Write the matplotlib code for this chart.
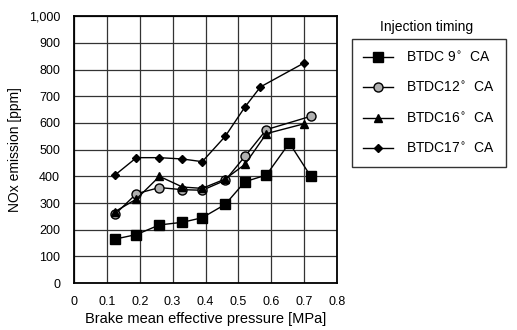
import matplotlib.pyplot as plt
import numpy as np

plt.rcParams['font.family'] = ['Liberation Sans', 'DejaVu Sans']

# brake mean effective pressure [MPa] and NOx [ppm]
bmep_9 = [0.125, 0.19, 0.26, 0.33, 0.39, 0.46, 0.52, 0.585, 0.655, 0.72]
nox_9 = [165, 182, 218, 228, 245, 295, 380, 405, 525, 400]

bmep_12 = [0.125, 0.19, 0.26, 0.33, 0.39, 0.46, 0.52, 0.585, 0.72]
nox_12 = [258, 335, 358, 350, 348, 385, 475, 575, 625]

bmep_16 = [0.125, 0.19, 0.26, 0.33, 0.39, 0.46, 0.52, 0.585, 0.70]
nox_16 = [268, 315, 400, 360, 355, 390, 445, 560, 597]

bmep_17 = [0.125, 0.19, 0.26, 0.33, 0.39, 0.46, 0.52, 0.567, 0.70]
nox_17 = [405, 470, 470, 465, 455, 550, 660, 735, 825]

labels = ['BTDC 9$^{\\circ}$  CA', 'BTDC12$^{\\circ}$  CA',
          'BTDC16$^{\\circ}$  CA', 'BTDC17$^{\\circ}$  CA']

fig = plt.figure(figsize=(5.17, 3.3), dpi=100)
ax = fig.add_axes([0.143, 0.142, 0.509, 0.809])

ax.plot(bmep_9, nox_9, color='black', lw=1, marker='s', ms=7,
        mfc='black', mec='black', label=labels[0])
ax.plot(bmep_12, nox_12, color='black', lw=1, marker='o', ms=6.5,
        mfc='#b0b0b0', mec='black', mew=1, label=labels[1])
ax.plot(bmep_16, nox_16, color='black', lw=1, marker='^', ms=6,
        mfc='black', mec='black', label=labels[2])
ax.plot(bmep_17, nox_17, color='black', lw=1, marker='D', ms=4.5,
        mfc='black', mec='black', label=labels[3])

ax.set_xlim(0, 0.8)
ax.set_ylim(0, 1000)
ax.set_xticks(np.arange(0, 0.81, 0.1))
ax.set_xticklabels(['0', '0.1', '0.2', '0.3', '0.4', '0.5', '0.6', '0.7', '0.8'])
ax.set_yticks(np.arange(0, 1001, 100))
ax.set_yticklabels(['0', '100', '200', '300', '400', '500', '600', '700',
                    '800', '900', '1,000'])
ax.tick_params(labelsize=9, length=0, colors='black')
ax.tick_params(axis='y', pad=10)
ax.tick_params(axis='x', pad=9)
ax.grid(True, color='#333333', lw=0.9)
for s in ax.spines.values():
    s.set_linewidth(1.3)

ax.set_xlabel('Brake mean effective pressure [MPa]', fontsize=10.5, labelpad=3)
ax.set_ylabel('NOx emission [ppm]', fontsize=10, labelpad=5)

leg = ax.legend(loc='upper left', bbox_to_anchor=(1.057, 0.914), frameon=True,
                fancybox=False, edgecolor='black', fontsize=10,
                handlelength=2.15, labelspacing=1.15, borderpad=0.8,
                handletextpad=0.95, borderaxespad=0)
leg.get_frame().set_linewidth(1.0)
fig.text(0.826, 0.918, 'Injection timing', fontsize=10, ha='center', va='center')

fig.savefig('out.png', dpi=100)
